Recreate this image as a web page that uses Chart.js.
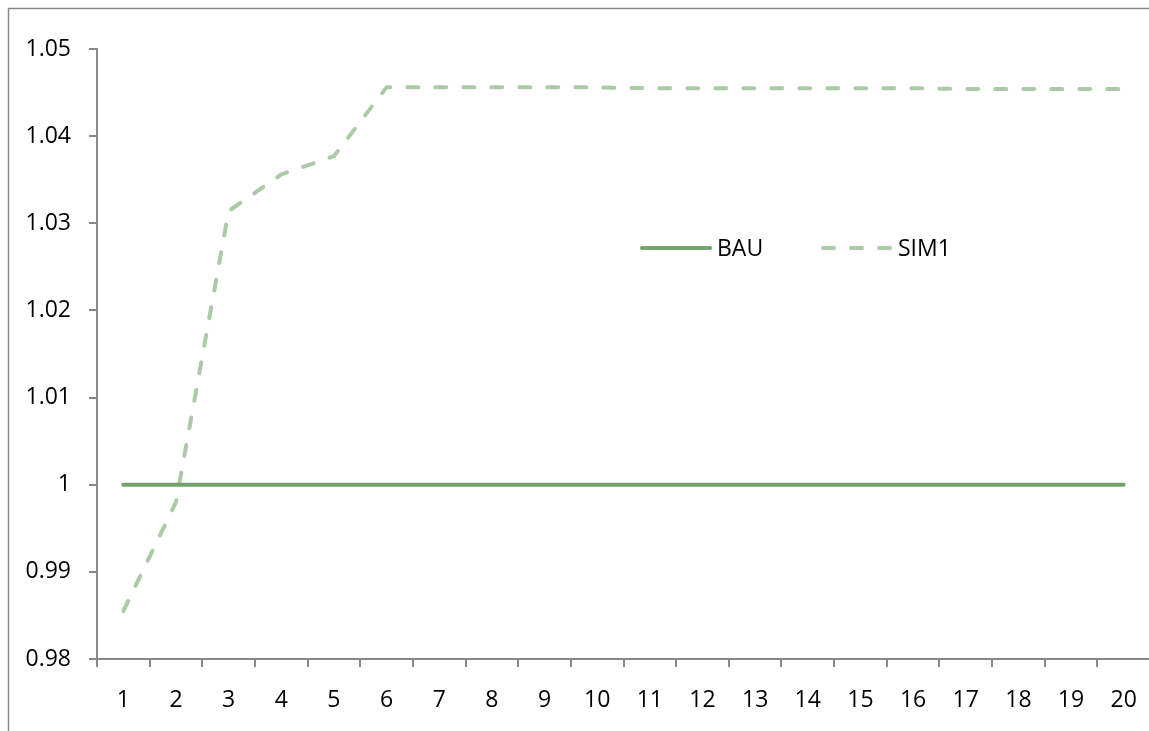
<!DOCTYPE html>
<html>
<head>
<meta charset="utf-8">
<script src="https://cdn.jsdelivr.net/npm/chart.js@4.4.1/dist/chart.umd.min.js"></script>
<style>
  html, body { margin: 0; padding: 0; background: #fff; overflow: hidden; }
  #wrap { width: 1165px; height: 731px; }
</style>
</head>
<body>
<div id="wrap"><canvas id="chart" width="1165" height="731"></canvas></div>
<script>
const categories = ['1', '2', '3', '4', '5', '6', '7', '8', '9', '10',
                    '11', '12', '13', '14', '15', '16', '17', '18', '19', '20'];
const bauValues = [1, 1, 1, 1, 1, 1, 1, 1, 1, 1, 1, 1, 1, 1, 1, 1, 1, 1, 1, 1];
const sim1Values = [0.9855, 0.998, 1.0314, 1.0356, 1.0377, 1.0456, 1.0456, 1.0456, 1.0456, 1.0456,
                    1.0455, 1.0455, 1.0455, 1.0455, 1.0455, 1.0455, 1.0454, 1.0454, 1.0454, 1.0454];
const yMin = 0.98;
const yMax = 1.05;
const yStep = 0.01;

const axisGray = '#898989';
const fontFamily = '"Open Sans", "Liberation Sans", sans-serif';
const fontSize = 23;

// outer frame of the chart
const framePlugin = {
    id: 'frame',
    beforeDraw(chart) {
        const ctx = chart.ctx;
        ctx.save();
        ctx.strokeStyle = axisGray;
        ctx.lineWidth = 1.5;
        ctx.strokeRect(8.5, 8.5, chart.width + 20, chart.height + 20);
        ctx.restore();
    }
};

// legend drawn inside the plot area
const insideLegend = {
    id: 'insideLegend',
    afterDatasetsDraw(chart) {
        const ctx = chart.ctx;
        const y = 248;
        const spots = [642, 823];
        ctx.save();
        chart.data.datasets.forEach((ds, i) => {
            const x = spots[i];
            ctx.beginPath();
            ctx.strokeStyle = ds.borderColor;
            ctx.lineWidth = ds.borderWidth;
            ctx.lineCap = 'round';
            ctx.setLineDash(ds.borderDash || []);
            ctx.moveTo(x, y);
            ctx.lineTo(x + 68, y);
            ctx.stroke();
            ctx.setLineDash([]);
            ctx.fillStyle = '#000';
            ctx.font = fontSize + 'px ' + fontFamily;
            ctx.textBaseline = 'middle';
            ctx.fillText(ds.label, x + 75, y + 1);
        });
        ctx.restore();
    }
};

new Chart(document.getElementById('chart'), {
    type: 'line',
    data: {
        labels: categories,
        datasets: [
            {
                label: 'BAU',
                data: bauValues,
                borderColor: '#72a26d',
                borderWidth: 4,
                pointRadius: 0,
                tension: 0,
                borderCapStyle: 'round'
            },
            {
                label: 'SIM1',
                data: sim1Values,
                borderColor: '#abcaa6',
                borderWidth: 4,
                borderDash: [11, 17],
                pointRadius: 0,
                tension: 0,
                borderCapStyle: 'round',
                borderJoinStyle: 'round'
            }
        ]
    },
    options: {
        responsive: false,
        animation: false,
        devicePixelRatio: 1,
        layout: { padding: { top: 49, right: 15, left: 0, bottom: 0 } },
        plugins: {
            legend: { display: false },
            tooltip: { enabled: false }
        },
        scales: {
            x: {
                offset: true,
                grid: {
                    offset: true,
                    drawOnChartArea: false,
                    color: axisGray,
                    lineWidth: 2,
                    tickLength: 8
                },
                border: { color: axisGray, width: 2 },
                ticks: {
                    color: '#000',
                    autoSkip: false,
                    maxRotation: 0,
                    padding: 20,
                    font: { family: fontFamily, size: fontSize }
                },
                afterFit(scale) { scale.height = 72; }
            },
            y: {
                min: yMin,
                max: yMax,
                grid: {
                    drawOnChartArea: false,
                    color: axisGray,
                    lineWidth: 2,
                    tickLength: 8
                },
                border: { color: axisGray, width: 2 },
                ticks: {
                    stepSize: yStep,
                    color: '#000',
                    padding: 18,
                    font: { family: fontFamily, size: fontSize },
                    callback: (v) => String(Number(v.toFixed(2)))
                },
                afterFit(scale) { scale.width = 97; }
            }
        }
    },
    plugins: [framePlugin, insideLegend]
});
</script>
</body>
</html>
